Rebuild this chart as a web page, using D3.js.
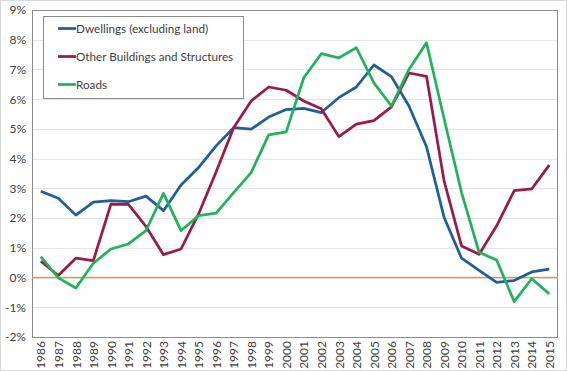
<!DOCTYPE html>
<html lang="en">
<head>
    <meta charset="UTF-8">
    <title>Construction growth</title>
    <script src="https://cdn.jsdelivr.net/npm/d3@7/dist/d3.min.js"></script>
    <style>
        body { margin: 0; background: #fff; }
        text { font-family: Lato, "Open Sans", sans-serif; fill: #404040; }
    </style>
</head>
<body>
    <div id="vis"></div>

    <script>

        var years = d3.range(1986, 2016);

        var dwellings = [2.90, 2.67, 2.10, 2.54, 2.59, 2.55, 2.74, 2.25, 3.11, 3.70,
                         4.43, 5.04, 4.99, 5.40, 5.65, 5.69, 5.55, 6.05, 6.41, 7.15,
                         6.76, 5.77, 4.40, 2.03, 0.65, 0.24, -0.16, -0.10, 0.19, 0.28];

        var otherBuildings = [0.55, 0.07, 0.65, 0.57, 2.47, 2.46, 1.72, 0.77, 0.96, 2.14,
                              3.55, 5.04, 5.94, 6.41, 6.30, 5.94, 5.68, 4.74, 5.16, 5.28,
                              5.74, 6.88, 6.77, 3.26, 1.06, 0.78, 1.74, 2.92, 2.98, 3.78];

        var roads = [0.70, -0.01, -0.35, 0.48, 0.96, 1.13, 1.58, 2.83, 1.58, 2.08,
                     2.17, 2.86, 3.53, 4.80, 4.90, 6.72, 7.53, 7.39, 7.73, 6.55,
                     5.77, 7.00, 7.90, 5.35, 2.86, 0.85, 0.59, -0.81, -0.04, -0.55];

        var seriesNames = ["Dwellings (excluding land)", "Other Buildings and Structures", "Roads"];
        var seriesColors = ["#1f5f99", "#9b1a4a", "#21b35a"];
        var yTicks = d3.range(-2, 10);

        var width = 567;
        var height = 371;
        var margin = { top: 10, left: 32, right: 9, bottom: 34 };

        var svg = d3.select("#vis")
            .append("svg")
              .attr("width", width)
              .attr("height", height);

        // outer chart border
        svg.append("rect")
            .attr("x", 0.5).attr("y", 0.5)
            .attr("width", width - 1).attr("height", height - 1)
            .attr("fill", "none")
            .attr("stroke", "#d9d9d9");

        var x_scale = d3.scalePoint()
            .domain(years)
            .range([margin.left, width - margin.right])
            .padding(0.5);

        var y_scale = d3.scaleLinear()
            .domain([-2, 9])
            .range([height - margin.bottom, margin.top]);

        // gridlines
        svg.append("g")
            .selectAll("line")
            .data(yTicks.slice(1, -1))
            .enter()
            .append("line")
              .attr("x1", margin.left)
              .attr("x2", width - margin.right)
              .attr("y1", function(d){ return Math.round(y_scale(d)) + 0.5; })
              .attr("y2", function(d){ return Math.round(y_scale(d)) + 0.5; })
              .attr("stroke", "#e6e6e6");

        // plot area border
        svg.append("rect")
            .attr("x", margin.left + 0.5)
            .attr("y", margin.top + 0.5)
            .attr("width", width - margin.left - margin.right - 1)
            .attr("height", height - margin.top - margin.bottom)
            .attr("fill", "none")
            .attr("stroke", "#8c8c8c");

        // zero line
        svg.append("line")
            .attr("x1", margin.left)
            .attr("x2", width - margin.right)
            .attr("y1", y_scale(0))
            .attr("y2", y_scale(0))
            .attr("stroke", "#d99a66")
            .attr("stroke-width", 1.5);

        // y axis
        var y_axis = d3.axisLeft(y_scale)
            .tickValues(yTicks)
            .tickSize(0)
            .tickPadding(6)
            .tickFormat(function(d){ return d + "%"; });

        svg.append("g")
            .attr("class", "y axis")
            .attr("transform", "translate(" + margin.left + ",0)")
            .call(y_axis)
            .call(function(g){ g.select(".domain").remove(); })
            .selectAll("text")
              .style("font-size", "12px")
              .attr("fill", "#404040");

        // x axis
        var x_axis = d3.axisBottom(x_scale)
            .tickSize(0)
            .tickPadding(0);

        svg.append("g")
            .attr("class", "x axis")
            .attr("transform", "translate(0," + (height - margin.bottom) + ")")
            .call(x_axis)
            .call(function(g){ g.select(".domain").remove(); })
            .selectAll("text")
              .style("font-size", "12px")
              .attr("fill", "#404040")
              .attr("transform", "rotate(-90)")
              .attr("text-anchor", "end")
              .attr("dy", "0.35em")
              .attr("x", -4)
              .attr("y", 0);

        // lines
        var line = d3.line()
            .x(function(d, i){ return x_scale(years[i]); })
            .y(function(d){ return y_scale(d); });

        var allSeries = [dwellings, otherBuildings, roads];

        svg.append("g")
            .selectAll("path")
            .data(allSeries)
            .enter()
            .append("path")
              .attr("d", line)
              .attr("fill", "none")
              .attr("stroke", function(d, i){ return seriesColors[i]; })
              .attr("stroke-width", 2.75)
              .attr("stroke-linejoin", "round");

        // legend
        var legend = svg.append("g")
            .attr("transform", "translate(43,16)");

        legend.append("rect")
            .attr("x", 0.5).attr("y", 0.5)
            .attr("width", 200).attr("height", 82)
            .attr("fill", "#fff")
            .attr("stroke", "#8c8c8c");

        var items = legend.selectAll(".item")
            .data(seriesNames)
            .enter()
            .append("g")
              .attr("class", "item")
              .attr("transform", function(d, i){ return "translate(0," + (12.5 + i * 28) + ")"; });

        items.append("line")
            .attr("x1", 15).attr("x2", 33)
            .attr("stroke", function(d, i){ return seriesColors[i]; })
            .attr("stroke-width", 2.75);

        items.append("text")
            .attr("x", 33)
            .attr("dy", "0.35em")
            .style("font-size", "11.7px")
            .text(function(d){ return d; });

    </script>
</body>
</html>
